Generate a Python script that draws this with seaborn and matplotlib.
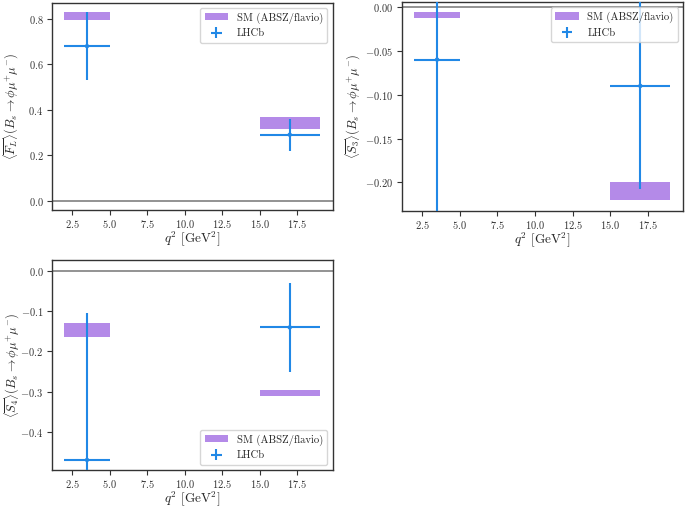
import numpy as np
import pandas as pd
import seaborn as sns
import matplotlib.pyplot as plt

# q^2 bins [GeV^2]
bin_lo = [2.0, 15.0]
bin_hi = [5.0, 19.0]

# LHCb measurements (central value, lower / upper error)
fl_lhcb = [0.68, 0.29]
fl_err_lo = [0.15, 0.07]
fl_err_hi = [0.15, 0.07]
s3_lhcb = [-0.06, -0.09]
s3_err_lo = [0.20, 0.117]
s3_err_hi = [0.20, 0.12]
s4_lhcb = [-0.47, -0.14]
s4_err_lo = [0.365, 0.11]
s4_err_hi = [0.365, 0.11]

# SM prediction bands (lower, upper)
fl_sm_lo = [0.795, 0.315]
fl_sm_hi = [0.830, 0.367]
s3_sm_lo = [-0.013, -0.2205]
s3_sm_hi = [-0.0055, -0.200]
s4_sm_lo = [-0.165, -0.310]
s4_sm_hi = [-0.129, -0.295]

sns.set_style("ticks")
plt.rcParams.update({
    "font.family": "serif",
    "font.serif": ["cmr10"],
    "mathtext.fontset": "cm",
    "axes.formatter.use_mathtext": True,
    "axes.edgecolor": "#333333",
    "axes.linewidth": 1.0,
    "xtick.labelsize": 7.5,
    "ytick.labelsize": 7.5,
    "xtick.major.size": 3.5,
    "ytick.major.size": 3.5,
    "xtick.major.pad": 2.5,
    "ytick.major.pad": 2.5,
    "xtick.color": "#333333",
    "ytick.color": "#333333",
})

sm_color = "#b48ae8"
lhcb_color = "#2188e6"

lo = np.array(bin_lo)
hi = np.array(bin_hi)
centers = (lo + hi) / 2

# name, data..., ylim, legend loc, axes rect, ylabel x position
panels = [
    ("F_L", fl_lhcb, fl_err_lo, fl_err_hi, fl_sm_lo, fl_sm_hi, (-0.0415, 0.8715), "upper right",
     [0.0755, 0.5858, 0.410, 0.409], -0.145),
    ("S_3", s3_lhcb, s3_err_lo, s3_err_hi, s3_sm_lo, s3_sm_hi, (-0.232, 0.0055), "upper right",
     [0.5864, 0.5848, 0.411, 0.411], -0.172),
    ("S_4", s4_lhcb, s4_err_lo, s4_err_hi, s4_sm_lo, s4_sm_hi, (-0.495, 0.0275), "lower right",
     [0.0755, 0.0730, 0.410, 0.414], -0.142),
]

fig = plt.figure(figsize=(6.85, 5.07), dpi=100)

for name, val, elo, ehi, slo, shi, ylim, loc, rect, ylab_x in panels:
    ax = fig.add_axes(rect)
    ax.axhline(0, color="gray", lw=1.2, zorder=1)
    slo = np.array(slo)
    shi = np.array(shi)
    ax.bar(centers, shi - slo, bottom=slo, width=hi - lo, color=sm_color,
           edgecolor="none", label="SM (ABSZ/flavio)", zorder=2)
    ax.errorbar(centers, val, xerr=(hi - lo) / 2, yerr=[elo, ehi], fmt="none",
                ecolor=lhcb_color, elinewidth=1.5, label="LHCb", zorder=3)
    df = pd.DataFrame({"q2": centers, "val": val})
    sns.scatterplot(data=df, x="q2", y="val", ax=ax, color=lhcb_color, s=10,
                    edgecolor="none", legend=False, zorder=4)
    ax.set_xlim(1.15, 19.85)
    ax.set_ylim(*ylim)
    ax.set_xlabel(r"$q^2$ $[\mathrm{GeV}^2]$", fontsize=9.5, va="center")
    ax.xaxis.set_label_coords(0.5, -0.138)
    ax.set_ylabel(r"$\langle \overline{%s} \rangle (B_s \to \phi\mu^{+}\mu^{-})$" % name,
                  fontsize=9, va="center")
    ax.yaxis.set_label_coords(ylab_x, 0.5)
    ax.legend(loc=loc, fontsize=7.7, handlelength=2.2)

fig.savefig("out.png", dpi=100)
